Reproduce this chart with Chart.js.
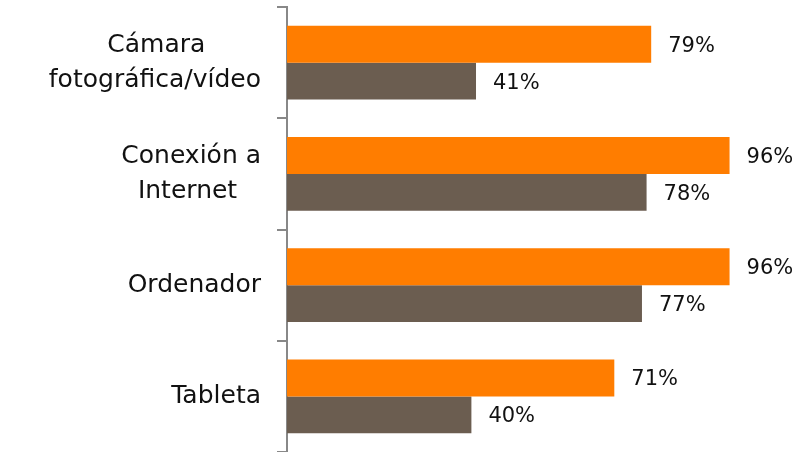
<!DOCTYPE html>
<html>
<head>
<meta charset="utf-8">
<script src="https://cdn.jsdelivr.net/npm/chart.js@4"></script>
<style>
html,body{margin:0;padding:0;background:#fff;}
#wrap{width:803px;height:452px;}
</style>
</head>
<body>
<div id="wrap"><canvas id="c" width="803" height="452"></canvas></div>
<script>
const categories = [
  ["Cámara", "fotográfica/vídeo"],
  ["Conexión a", "Internet"],
  ["Ordenador"],
  ["Tableta"]
];
const seriesOrange = [79, 96, 96, 71];
const seriesBrown = [41, 78, 77, 40];
const valueSuffix = "%";

const FONT_FAMILY = "'DejaVu Sans', sans-serif";
const LABEL_SIZE = 25;

// Center shorter lines of multi-line labels by padding with non-breaking spaces on the right
const mctx = document.createElement('canvas').getContext('2d');
mctx.font = LABEL_SIZE + "px " + FONT_FAMILY;
function centerLines(lines){
  if (lines.length < 2) return lines;
  const widths = lines.map(l => mctx.measureText(l).width);
  const maxW = Math.max(...widths);
  const sp = mctx.measureText('\u00A0').width;
  return lines.map((l, i) => l + '\u00A0'.repeat(Math.round((maxW - widths[i]) / 2 / sp)));
}
const displayLabels = categories.map(centerLines);

const valueLabels = {
  id: 'valueLabels',
  afterDatasetsDraw(chart){
    const ctx = chart.ctx;
    ctx.save();
    ctx.font = "21px " + FONT_FAMILY;
    ctx.fillStyle = "#111111";
    ctx.textAlign = "left";
    ctx.textBaseline = "middle";
    chart.data.datasets.forEach((ds, di) => {
      const meta = chart.getDatasetMeta(di);
      meta.data.forEach((bar, i) => {
        ctx.fillText(ds.data[i] + valueSuffix, bar.x + 17, bar.y + 2);
      });
    });
    ctx.restore();
  }
};

new Chart(document.getElementById('c'), {
  type: 'bar',
  data: {
    labels: displayLabels,
    datasets: [
      { data: seriesOrange, backgroundColor: '#FF7D00', categoryPercentage: 0.665, barPercentage: 1 },
      { data: seriesBrown, backgroundColor: '#6B5D50', categoryPercentage: 0.665, barPercentage: 1 }
    ]
  },
  options: {
    indexAxis: 'y',
    responsive: false,
    animation: false,
    devicePixelRatio: 1,
    layout: { padding: { top: 7, right: 55, bottom: 0, left: 0 } },
    plugins: { legend: { display: false }, tooltip: { enabled: false } },
    scales: {
      x: { display: false, min: 0, max: 100 },
      y: {
        afterFit(scale){ scale.width = 287; scale.paddingTop = 0; scale.paddingBottom = 0; },
        border: { display: true, color: '#888888', width: 2 },
        grid: { display: true, drawOnChartArea: false, drawTicks: true, tickLength: 10, color: '#888888', lineWidth: 2, offset: true },
        ticks: {
          color: '#111111',
          padding: 16,
          font: { family: FONT_FAMILY, size: LABEL_SIZE, lineHeight: 1.4 }
        }
      }
    }
  },
  plugins: [valueLabels]
});
</script>
</body>
</html>
